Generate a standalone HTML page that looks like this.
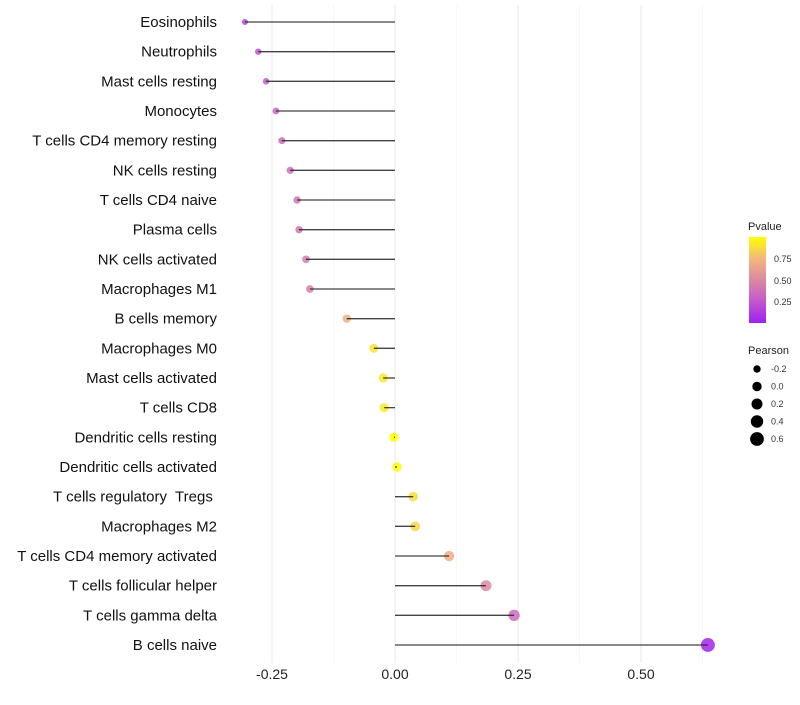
<!DOCTYPE html>
<html><head><meta charset="utf-8"><style>
body{margin:0;background:#fff;font-family:"Liberation Sans",sans-serif}
svg text{font-family:"Liberation Sans",sans-serif;white-space:pre}
</style></head><body>
<svg id="chart" width="800" height="700" xmlns="http://www.w3.org/2000/svg">
<g id="grid"></g>
<g id="points"></g>
<g id="stems"></g>
<g id="ylabels"></g>
<g id="xlabels"></g>
<g id="legend">
<defs><linearGradient id="pg" x1="0" y1="1" x2="0" y2="0">
<stop offset="0" stop-color="#a020f0"/><stop offset="0.3" stop-color="#c862c8"/><stop offset="0.5" stop-color="#dc88a0"/><stop offset="0.75" stop-color="#f2b87c"/><stop offset="1" stop-color="#ffff00"/>
</linearGradient></defs>
<text x="748" y="230" font-size="11" fill="#222">Pvalue</text>
<rect x="749" y="237" width="17" height="86" fill="url(#pg)"/>
<text x="774" y="262" font-size="9" fill="#333">0.75</text>
<text x="774" y="284" font-size="9" fill="#333">0.50</text>
<text x="774" y="305" font-size="9" fill="#333">0.25</text>
<text x="748" y="354" font-size="11" fill="#222">Pearson</text>
<g id="sizeleg"></g>
</g>
</svg>
<script>
const categories=["Eosinophils","Neutrophils","Mast cells resting","Monocytes","T cells CD4 memory resting","NK cells resting","T cells CD4 naive","Plasma cells","NK cells activated","Macrophages M1","B cells memory","Macrophages M0","Mast cells activated","T cells CD8","Dendritic cells resting","Dendritic cells activated","T cells regulatory  Tregs ","Macrophages M2","T cells CD4 memory activated","T cells follicular helper","T cells gamma delta","B cells naive"];
const pearson=[-0.305,-0.278,-0.262,-0.242,-0.230,-0.213,-0.199,-0.195,-0.181,-0.173,-0.098,-0.043,-0.024,-0.022,-0.002,0.004,0.037,0.041,0.110,0.185,0.242,0.636];
const pvalue=[0.17,0.24,0.28,0.32,0.35,0.37,0.39,0.41,0.43,0.46,0.72,0.9,0.92,0.92,1.0,0.99,0.87,0.86,0.7,0.5,0.35,0.02];
const xTicks=[-0.25,0,0.25,0.5];
const xTickLabels=["-0.25","0.00","0.25","0.50"];
const sizeLegendValues=[-0.2,0.0,0.2,0.4,0.6];
const sizeLegendLabels=["-0.2","0.0","0.2","0.4","0.6"];
const NS="http://www.w3.org/2000/svg";
function x(v){return 395+v*492;}
function y(i){return 22+i*(623/21);}
function r(v){return Math.sqrt(Math.max(4,22+42*v));}
const stops=[[0,[160,32,240]],[0.3,[200,98,200]],[0.5,[220,136,160]],[0.75,[242,184,124]],[1,[255,255,0]]];
function col(p){p=Math.max(0,Math.min(1,p));for(let k=1;k<stops.length;k++){if(p<=stops[k][0]){const a=stops[k-1],b=stops[k];const t=(p-a[0])/(b[0]-a[0]);const c=a[1].map((u,j)=>Math.round(u+(b[1][j]-u)*t));return `rgb(${c})`;}}return "rgb(255,255,0)";}
function mk(tag,attrs,parent){const e=document.createElementNS(NS,tag);for(const k in attrs)e.setAttribute(k,attrs[k]);parent.appendChild(e);return e;}
const grid=document.getElementById('grid');
[-0.125,0.125,0.375,0.625].forEach(v=>{const l=mk('line',{x1:x(v),x2:x(v),y1:5,y2:663,stroke:'#f2f2f2','stroke-width':0.6},grid);

});
xTicks.forEach((v,i)=>{const l=mk('line',{x1:x(v),x2:x(v),y1:5,y2:663,stroke:'#ebebeb','stroke-width':1.1},grid);


const t=mk('text',{x:x(v),y:679,'font-size':14,'text-anchor':'middle',fill:'#222'},document.getElementById('xlabels'));t.textContent=xTickLabels[i];

});
const stems=document.getElementById('stems'),pts=document.getElementById('points'),yl=document.getElementById('ylabels');
categories.forEach((c,i)=>{
const c1=mk('circle',{cx:x(pearson[i]),cy:y(i),r:r(pearson[i]),fill:col(pvalue[i]),'fill-opacity':0.85},pts);


const l=mk('line',{x1:x(0),x2:x(pearson[i]),y1:y(i),y2:y(i),stroke:'#222','stroke-width':1.3,'stroke-opacity':0.85},stems);


const t=mk('text',{x:217,y:y(i)+5,'font-size':15,'text-anchor':'end',fill:'#111'},yl);t.textContent=c;


});
const sl=document.getElementById('sizeleg');
sizeLegendValues.forEach((v,i)=>{const cy=369+i*17.5;
const c=mk('circle',{cx:757,cy:cy,r:r(v),fill:'#000'},sl);


const t=mk('text',{x:771,y:cy+3,'font-size':9,fill:'#333'},sl);t.textContent=sizeLegendLabels[i];

});
</script>
</body></html>
